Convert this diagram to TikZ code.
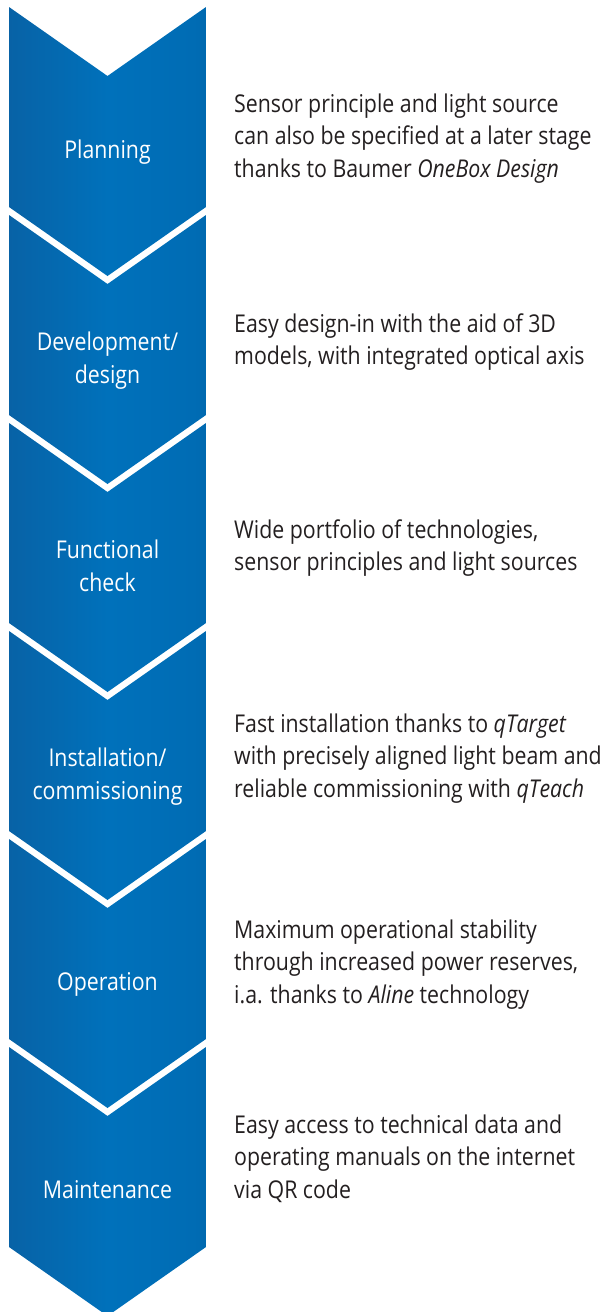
\documentclass[tikz,border=0pt]{standalone}
\usepackage{fontspec}
\setmainfont[FakeStretch=0.87]{Open Sans}
\definecolor{cdark}{RGB}{6,70,128}
\definecolor{cdark2}{RGB}{10,94,160}
\definecolor{cmid}{RGB}{0,113,187}
\definecolor{cmid2}{RGB}{0,108,180}
\definecolor{cright2}{RGB}{0,90,156}
\definecolor{cright}{RGB}{0,70,126}
\definecolor{textgray}{RGB}{35,31,32}
\pgfdeclarehorizontalshading{chevshade}{100bp}{color(0bp)=(cdark); color(18bp)=(cdark2); color(50bp)=(cmid); color(72bp)=(cmid2); color(88bp)=(cright2); color(100bp)=(cright)}
\newcommand\lblfont{\fontsize{24.5}{33}\selectfont}
\newcommand\descfont{\fontsize{24.5}{32.8}\selectfont}
\newcommand\ctrlines[1]{\vtop{\halign{\hfil##\hfil\cr#1\cr}}}
\newcommand\lftlines[1]{\vtop{\halign{##\hfil\cr#1\cr}}}
\tikzset{
  chev/.style={shading=chevshade, draw=none},
  lbl/.style={text=white, inner sep=0pt, anchor=base, font=\lblfont},
  desc/.style={text=textgray, inner sep=0pt, anchor=base west, font=\descfont},
}
\begin{document}
\begin{tikzpicture}[x=1pt,y=-1pt]
\useasboundingbox (0,0) rectangle (609,1312);
\clip (0,0) rectangle (609,1312);
\foreach \T in {7,215,423,631,839,1047}{
  \path[chev] (9,\T) -- (107.5,\T+69) -- (206,\T) -- (206,\T+200) -- (107.5,\T+269) -- (9,\T+200) -- cycle;
}
\node[lbl] (planning) at (107.5,158) {Planning};
\node[lbl] (development) at (107.5,350) {\ctrlines{Development/\cr design}};
\node[lbl] (functional) at (107.5,558) {\ctrlines{Functional\cr check}};
\node[lbl] (installation) at (107.5,766) {\ctrlines{Installation/\cr commissioning}};
\node[lbl] (operation) at (107.5,990) {Operation};
\node[lbl] (maintenance) at (107.5,1198) {Maintenance};

\node[desc] (d1) at (234,112) {\lftlines{Sensor principle and light source\cr can also be specified at a later stage\cr thanks to Baumer \textit{OneBox Design}}};
\node[desc] (d2) at (234,332) {\lftlines{Easy design-in with the aid of 3D\cr models, with integrated optical axis}};
\node[desc] (d3) at (234,538) {\lftlines{Wide portfolio of technologies,\cr sensor principles and light sources}};
\node[desc] (d4) at (234,732) {\lftlines{Fast installation thanks to \textit{qTarget}\cr with precisely aligned light beam and\cr reliable commissioning with \textit{qTeach}}};
\node[desc] (d5) at (234,938) {\lftlines{Maximum operational stability\cr through increased power reserves,\cr i.a. thanks to \textit{Aline} technology}};
\node[desc] (d6) at (234,1133) {\lftlines{Easy access to technical data and\cr operating manuals on the internet\cr via QR code}};
\end{tikzpicture}
\end{document}
